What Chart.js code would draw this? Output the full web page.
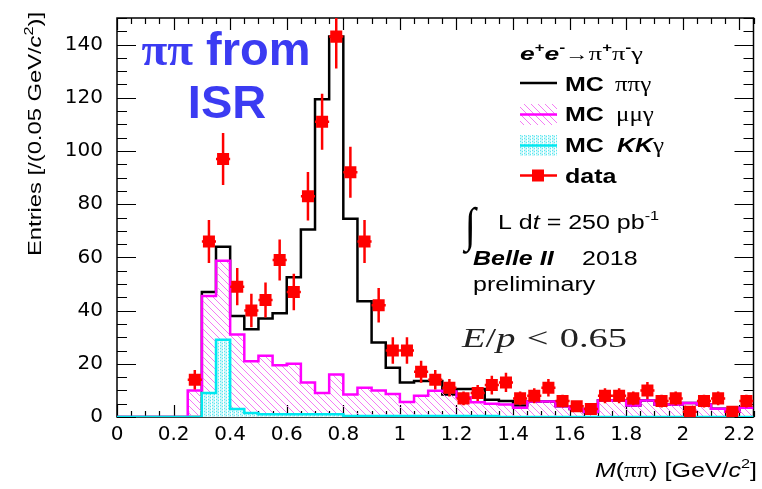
<!DOCTYPE html>
<html>
<head>
<meta charset="utf-8">
<script src="https://cdn.jsdelivr.net/npm/chart.js@4.4.1/dist/chart.umd.min.js"></script>
<style>
  html, body { margin: 0; padding: 0; background: #fff; }
  #wrap { width: 762px; height: 489px; }
</style>
</head>
<body>
<div id="wrap"><canvas id="isrChart" width="762" height="489"></canvas></div>
<script>
// bins of M(pipi), 0.05 GeV wide
const binLow = [0, 0.05, 0.1, 0.15, 0.2, 0.25, 0.3, 0.35, 0.4, 0.45,
                0.5, 0.55, 0.6, 0.65, 0.7, 0.75, 0.8, 0.85, 0.9, 0.95,
                1.0, 1.05, 1.1, 1.15, 1.2, 1.25, 1.3, 1.35, 1.4, 1.45,
                1.5, 1.55, 1.6, 1.65, 1.7, 1.75, 1.8, 1.85, 1.9, 1.95,
                2.0, 2.05, 2.1, 2.15, 2.2];
const binWidth = 0.05;

const mcPiPiGamma = [0, 0, 0, 0, 0, 0, 47, 64, 38, 33,
                     37, 39, 52.5, 70.5, 119.5, 143, 74.5, 43.5, 28, 18.5,
                     13, 13.5, 13.5, 8.5, 10.5, 10.5, 6.5, 6, 4.3, 5.8,
                     5.8, 4, 3, 1.9, 6.2, 6.2, 4.3, 6.2, 4.7, 4.7,
                     5.3, 4.7, 3.1, 2, 3.5];
const mcMuMuGamma = [0, 0, 0, 0, 0, 10, 45.5, 58.7, 31, 21,
                     23, 19.5, 20, 13, 9, 16, 8.5, 11, 10, 8.6,
                     5.6, 8, 9.9, 9.6, 7.4, 5.5, 5, 4.7, 3.5, 5.8,
                     5.8, 4, 3, 1.9, 6.2, 6.2, 4.3, 6.2, 4.7, 4.7,
                     5.3, 4.7, 3.1, 2, 3.5];
const mcKKGamma = [0, 0, 0, 0, 0, 0, 9, 29, 3, 1.5,
                   1, 1, 1, 1, 1, 1, 0.4, 0.4, 0.4, 0.4,
                   0.4, 0.4, 0.4, 0.4, 0.4, 0.4, 0.4, 0, 0, 0,
                   0, 0, 0, 0, 0, 0, 0, 0, 0, 0,
                   0, 0, 0, 0, 0];
const dataCounts = [null, null, null, null, null, 14, 66, 97, 49, 40,
                    44, 59, 47, 83, 111, 143, 92, 66, 42, 25,
                    25, 17, 14, 11, 7, 9, 12, 13, 7, 8,
                    11, 6, 4, 3, 8, 8, 7, 10, 6, 7,
                    2, 6, 7, 2, 6];
const dataErrors = [null, null, null, null, null, 3.7, 8.1, 9.8, 7, 6.3,
                    6.6, 7.7, 6.9, 9.1, 10.5, 12, 9.6, 8.1, 6.5, 5,
                    5, 4.1, 3.7, 3.3, 2.6, 3, 3.5, 3.6, 2.6, 2.8,
                    3.3, 2.4, 2, 1.7, 2.8, 2.8, 2.6, 3.2, 2.4, 2.6,
                    1.4, 2.4, 2.6, 1.4, 2.4];

const xTickValues = [0, 0.2, 0.4, 0.6, 0.8, 1, 1.2, 1.4, 1.6, 1.8, 2, 2.2];
const xTickLabels = ['0', '0.2', '0.4', '0.6', '0.8', '1', '1.2', '1.4', '1.6', '1.8', '2', '2.2'];
const yTickValues = [0, 20, 40, 60, 80, 100, 120, 140];

const SANS = '"Liberation Sans", Arial, sans-serif';
const SERIF = '"Liberation Serif", "Times New Roman", serif';
const STRETCH = 1.25; // the ROOT text in the picture is wide

function hatchPattern() {
  const c = document.createElement('canvas');
  c.width = 7; c.height = 7;
  const g = c.getContext('2d');
  g.strokeStyle = '#f47cf4';
  g.lineWidth = 1;
  g.beginPath();
  g.moveTo(-1, -1); g.lineTo(8, 8);
  g.moveTo(-1, 6); g.lineTo(1, 8);
  g.moveTo(6, -1); g.lineTo(8, 1);
  g.stroke();
  return g.createPattern(c, 'repeat');
}

function dotPattern() {
  const c = document.createElement('canvas');
  c.width = 4; c.height = 3;
  const g = c.getContext('2d');
  g.fillStyle = '#c9f7fa';
  g.fillRect(0, 0, 4, 3);
  g.fillStyle = '#5ce6ee';
  g.fillRect(0, 0, 1, 1);
  g.fillRect(2, 1, 1, 1);
  g.fillStyle = '#ffffff';
  g.fillRect(3, 0, 1, 3);
  return g.createPattern(c, 'repeat');
}

const muHatch = hatchPattern();
const kkDots = dotPattern();

function histPoints(values) {
  const pts = values.map((v, i) => ({ x: binLow[i], y: v }));
  pts.push({ x: binLow[binLow.length - 1] + binWidth, y: values[values.length - 1] });
  return pts;
}

const dataPoints = [];
dataCounts.forEach((n, i) => {
  if (n !== null) dataPoints.push({ x: binLow[i] + binWidth / 2, y: n });
});

// draw text made of several pieces (fonts, superscripts), optionally stretched
function drawParts(ctx, parts, x, y, opts = {}) {
  let w = 0;
  parts.forEach(p => {
    ctx.font = p.font;
    p.w = ctx.measureText(p.t).width + (p.gap || 0);
    w += p.w;
  });
  const sx = opts.width ? opts.width / w : (opts.stretch || 1);
  ctx.save();
  ctx.translate(x, y);
  if (opts.rotate) ctx.rotate(opts.rotate);
  ctx.scale(sx, opts.sy || 1);
  let cx = opts.align === 'right' ? -w : opts.align === 'center' ? -w / 2 : 0;
  ctx.fillStyle = opts.color || '#000';
  ctx.textAlign = 'left';
  ctx.textBaseline = 'alphabetic';
  parts.forEach(p => {
    ctx.font = p.font;
    ctx.fillText(p.t, cx, p.dy || 0);
    cx += p.w;
  });
  ctx.restore();
}

const errorBars = {
  id: 'errorBars',
  beforeDatasetDraw(chart, args) {
    if (args.index !== 0) return;
    const { ctx, chartArea: a, scales: { x, y } } = chart;
    ctx.save();
    ctx.beginPath();
    ctx.rect(a.left, a.top, a.right - a.left, a.bottom - a.top);
    ctx.clip();
    ctx.strokeStyle = '#ff0000';
    ctx.lineWidth = 2.5;
    dataCounts.forEach((n, i) => {
      if (n === null) return;
      const xc = x.getPixelForValue(binLow[i] + binWidth / 2);
      const yc = y.getPixelForValue(n);
      ctx.beginPath();
      ctx.moveTo(xc, y.getPixelForValue(n - dataErrors[i]));
      ctx.lineTo(xc, y.getPixelForValue(n + dataErrors[i]));
      ctx.moveTo(x.getPixelForValue(binLow[i]), yc);
      ctx.lineTo(x.getPixelForValue(binLow[i] + binWidth), yc);
      ctx.stroke();
    });
    ctx.restore();
  }
};

// frame and inward ticks go under the histograms, like the cyan base line in the picture
const frameAndTicks = {
  id: 'frameAndTicks',
  beforeDatasetsDraw(chart) {
    const { ctx, chartArea: a, scales: { x, y } } = chart;
    ctx.save();
    ctx.strokeStyle = '#000';
    ctx.lineWidth = 1.2;
    ctx.beginPath();
    binLow.concat([2.25]).forEach(v => {
      const px = Math.round(x.getPixelForValue(v)) + 0.5;
      const len = xTickValues.includes(v) ? 12 : 6;
      ctx.moveTo(px, a.bottom); ctx.lineTo(px, a.bottom - len);
      ctx.moveTo(px, a.top); ctx.lineTo(px, a.top + len);
    });
    for (let v = 0; v <= 150; v += 5) {
      const py = Math.round(y.getPixelForValue(v)) + 0.5;
      const len = yTickValues.includes(v) ? 19 : 10;
      ctx.moveTo(a.left, py); ctx.lineTo(a.left + len, py);
      ctx.moveTo(a.right, py); ctx.lineTo(a.right - len, py);
    }
    ctx.stroke();
    ctx.lineWidth = 1.5;
    ctx.strokeRect(a.left, a.top, a.right - a.left, a.bottom - a.top);
    ctx.restore();
  }
};

const annotations = {
  id: 'annotations',
  afterDraw(chart) {
    const ctx = chart.ctx;
    ctx.save();

    // axis titles
    drawParts(ctx, [
      { t: 'Entries [/(0.05 GeV/', font: `19px ${SANS}` },
      { t: 'c', font: `italic 19px ${SANS}` },
      { t: '2', font: `13px ${SANS}`, dy: -8 },
      { t: ')]', font: `19px ${SANS}` }
    ], 41, 12, { rotate: -Math.PI / 2, stretch: STRETCH, align: 'right' });

    drawParts(ctx, [
      { t: 'M', font: `italic 20px ${SANS}` },
      { t: '(', font: `20px ${SANS}` },
      { t: 'ππ', font: `20px ${SERIF}` },
      { t: ') [GeV/', font: `20px ${SANS}` },
      { t: 'c', font: `italic 20px ${SANS}` },
      { t: '2', font: `13px ${SANS}`, dy: -9 },
      { t: ']', font: `20px ${SANS}` }
    ], 757, 477, { stretch: STRETCH, align: 'right' });

    // blue title
    drawParts(ctx, [
      { t: 'ππ', font: `bold 47px ${SERIF}` },
      { t: ' from', font: `bold 47px ${SANS}` }
    ], 226, 65, { align: 'center', color: '#3b3bf2' });
    drawParts(ctx, [{ t: 'ISR', font: `bold 47px ${SANS}` }], 227, 118,
      { align: 'center', color: '#3b3bf2' });

    // legend
    drawParts(ctx, [
      { t: 'e', font: `bold italic 19px ${SANS}` },
      { t: '+', font: `bold 12px ${SANS}`, dy: -8 },
      { t: 'e', font: `bold italic 19px ${SANS}` },
      { t: '-', font: `bold 13px ${SANS}`, dy: -8 },
      { t: '→', font: `17px ${SANS}` },
      { t: 'π', font: `19px ${SERIF}` },
      { t: '+', font: `bold 12px ${SANS}`, dy: -8 },
      { t: 'π', font: `19px ${SERIF}` },
      { t: '-', font: `bold 13px ${SANS}`, dy: -8 },
      { t: 'γ', font: `19px ${SERIF}` }
    ], 520, 60, { width: 123 });

    const rows = [91, 121, 152, 183];
    drawParts(ctx, [{ t: 'MC', font: `bold 20px ${SANS}` }], 565, rows[0], { stretch: STRETCH });
    drawParts(ctx, [{ t: 'ππγ', font: `20px ${SERIF}` }], 615, rows[0], { stretch: STRETCH });
    drawParts(ctx, [{ t: 'MC', font: `bold 20px ${SANS}` }], 565, rows[1], { stretch: STRETCH });
    drawParts(ctx, [{ t: 'μμγ', font: `20px ${SERIF}` }], 616, rows[1], { stretch: STRETCH });
    drawParts(ctx, [{ t: 'MC', font: `bold 20px ${SANS}` }], 565, rows[2], { stretch: STRETCH });
    drawParts(ctx, [
      { t: 'KK', font: `bold italic 20px ${SANS}` },
      { t: 'γ', font: `20px ${SERIF}` }
    ], 617, rows[2], { stretch: STRETCH });
    drawParts(ctx, [{ t: 'data', font: `bold 20px ${SANS}` }], 565, rows[3], { stretch: STRETCH });

    // legend samples
    ctx.lineWidth = 2.5;
    ctx.strokeStyle = '#000';
    ctx.beginPath(); ctx.moveTo(520, 83); ctx.lineTo(557, 83); ctx.stroke();
    ctx.fillStyle = muHatch;
    ctx.fillRect(520, 104, 37, 21);
    ctx.strokeStyle = '#ff00ff';
    ctx.beginPath(); ctx.moveTo(520, 114.5); ctx.lineTo(557, 114.5); ctx.stroke();
    ctx.fillStyle = kkDots;
    ctx.fillRect(520, 135, 37, 21);
    ctx.strokeStyle = '#00e8f0';
    ctx.beginPath(); ctx.moveTo(520, 145.5); ctx.lineTo(557, 145.5); ctx.stroke();
    ctx.strokeStyle = '#ff0000';
    ctx.beginPath(); ctx.moveTo(520, 175.5); ctx.lineTo(557, 175.5); ctx.stroke();
    ctx.fillStyle = '#ff0000';
    ctx.fillRect(532, 169.5, 12, 12);

    // luminosity block
    drawParts(ctx, [{ t: '∫', font: `bold 40px ${SERIF}` }], 465, 241, { sy: 1.2 });
    drawParts(ctx, [
      { t: 'L d', font: `20px ${SANS}` },
      { t: 't', font: `italic 20px ${SANS}` },
      { t: ' = 250 pb', font: `20px ${SANS}` },
      { t: '-1', font: `13px ${SANS}`, dy: -9 }
    ], 498, 229, { stretch: STRETCH });
    drawParts(ctx, [{ t: 'Belle II', font: `bold italic 20px ${SANS}` }], 473, 265, { stretch: STRETCH });
    drawParts(ctx, [{ t: '2018', font: `20px ${SANS}` }], 582, 265, { stretch: STRETCH });
    drawParts(ctx, [{ t: 'preliminary', font: `20px ${SANS}` }], 473, 291, { stretch: STRETCH });

    drawParts(ctx, [
      { t: 'E', font: `italic 27px ${SERIF}` },
      { t: '/', font: `27px ${SERIF}` },
      { t: 'p', font: `italic 27px ${SERIF}`, gap: 8 },
      { t: '<', font: `27px ${SERIF}`, gap: 8 },
      { t: '0.65', font: `27px ${SERIF}` }
    ], 462, 347, { width: 165, color: '#222' });

    ctx.restore();
  }
};

new Chart(document.getElementById('isrChart'), {
  type: 'line',
  data: {
    datasets: [
      {
        label: 'data',
        data: dataPoints,
        showLine: false,
        pointStyle: 'rect',
        pointRadius: 8.5,
        pointBackgroundColor: '#ff0000',
        pointBorderWidth: 0
      },
      {
        label: 'MC KKγ',
        data: histPoints(mcKKGamma),
        stepped: 'before',
        borderColor: '#00e8f0',
        borderWidth: 2.5,
        backgroundColor: kkDots,
        fill: 'origin',
        pointRadius: 0
      },
      {
        label: 'MC μμγ',
        data: histPoints(mcMuMuGamma),
        stepped: 'before',
        borderColor: '#ff00ff',
        borderWidth: 2.5,
        backgroundColor: muHatch,
        fill: 'origin',
        pointRadius: 0
      },
      {
        label: 'MC ππγ',
        data: histPoints(mcPiPiGamma),
        stepped: 'before',
        borderColor: '#000000',
        borderWidth: 2.5,
        fill: false,
        pointRadius: 0
      }
    ]
  },
  options: {
    responsive: false,
    devicePixelRatio: 1,
    animation: false,
    layout: { padding: { top: 12, right: 6, left: 0, bottom: 0 } },
    plugins: { legend: { display: false }, tooltip: { enabled: false } },
    scales: {
      x: {
        type: 'linear',
        min: 0,
        max: 2.25,
        afterBuildTicks: s => { s.ticks = xTickValues.map(v => ({ value: v })); },
        afterFit: s => { s.height = 72; },
        grid: { display: false },
        border: { display: false },
        ticks: {
          autoSkip: false,
          maxRotation: 0,
          padding: -2,
          color: '#000',
          font: { family: 'DejaVu Sans', size: 20 },
          callback: (v, i) => xTickLabels[i]
        }
      },
      y: {
        min: 0,
        max: 150,
        afterBuildTicks: s => { s.ticks = yTickValues.map(v => ({ value: v })); },
        afterFit: s => { s.width = 117; },
        grid: { display: false },
        border: { display: false },
        ticks: {
          padding: 6,
          color: '#000',
          font: { family: 'DejaVu Sans', size: 20 }
        }
      }
    }
  },
  plugins: [errorBars, frameAndTicks, annotations]
});
</script>
</body>
</html>
